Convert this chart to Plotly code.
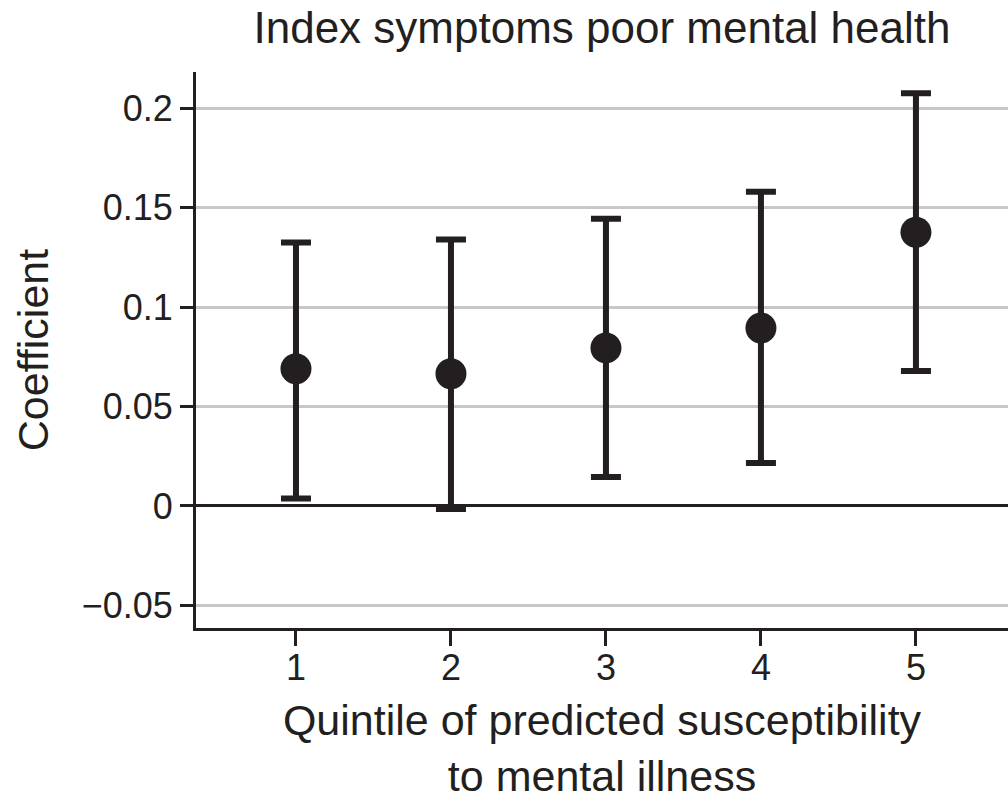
import plotly.graph_objects as go

quintiles = [1, 2, 3, 4, 5]
coef = [0.0690, 0.0665, 0.0795, 0.0895, 0.1377]
ci_upper = [0.1325, 0.1340, 0.1445, 0.1580, 0.2076]
ci_lower = [0.0037, -0.0015, 0.0145, 0.0216, 0.0679]

y_ticks = [-0.05, 0, 0.05, 0.1, 0.15, 0.2]
y_tick_labels = ["\u22120.05", "0", "0.05", "0.1", "0.15", "0.2"]

ink = "#231f20"
font_family = "Liberation Sans, Arial, Helvetica, sans-serif"

err_plus = [u - c for u, c in zip(ci_upper, coef)]
err_minus = [c - l for c, l in zip(coef, ci_lower)]

fig = go.Figure()
fig.add_trace(go.Scatter(
    x=quintiles, y=coef, mode="markers",
    marker=dict(size=31, color=ink),
    error_y=dict(type="data", symmetric=False, array=err_plus, arrayminus=err_minus,
                 color=ink, thickness=6, width=15),
    showlegend=False,
))

fig.update_layout(
    width=1008, height=800,
    margin=dict(l=196, r=0, t=72, b=172),
    plot_bgcolor="white", paper_bgcolor="white",
    font=dict(family=font_family, color=ink, size=36),
    title=dict(text="Index symptoms poor mental health", x=0.5, xref="paper",
               xanchor="center", y=0.966, yanchor="middle",
               font=dict(size=44, color=ink, family=font_family)),
)

fig.update_xaxes(
    range=[0.355, 5.594], tickvals=quintiles, ticktext=[str(q) for q in quintiles],
    showgrid=False, zeroline=False,
    showline=True, linecolor=ink, linewidth=3,
    ticks="outside", ticklen=15, tickwidth=3, tickcolor=ink,
    ticklabelstandoff=-9,
    tickfont=dict(size=36, color=ink),
    title=dict(text="Quintile of predicted susceptibility<br>to mental illness",
               font=dict(size=43, color=ink), standoff=22),
)
fig.update_yaxes(
    range=[-0.0614, 0.2183], tickvals=y_ticks, ticktext=y_tick_labels,
    showgrid=True, gridcolor="#c8c8c8", gridwidth=3,
    zeroline=True, zerolinecolor=ink, zerolinewidth=2.5,
    showline=True, linecolor=ink, linewidth=3,
    ticks="outside", ticklen=13, tickwidth=3, tickcolor=ink,
    tickfont=dict(size=36, color=ink),
    title=dict(text="Coefficient", font=dict(size=43, color=ink), standoff=20),
)

fig.write_html("out.html")
